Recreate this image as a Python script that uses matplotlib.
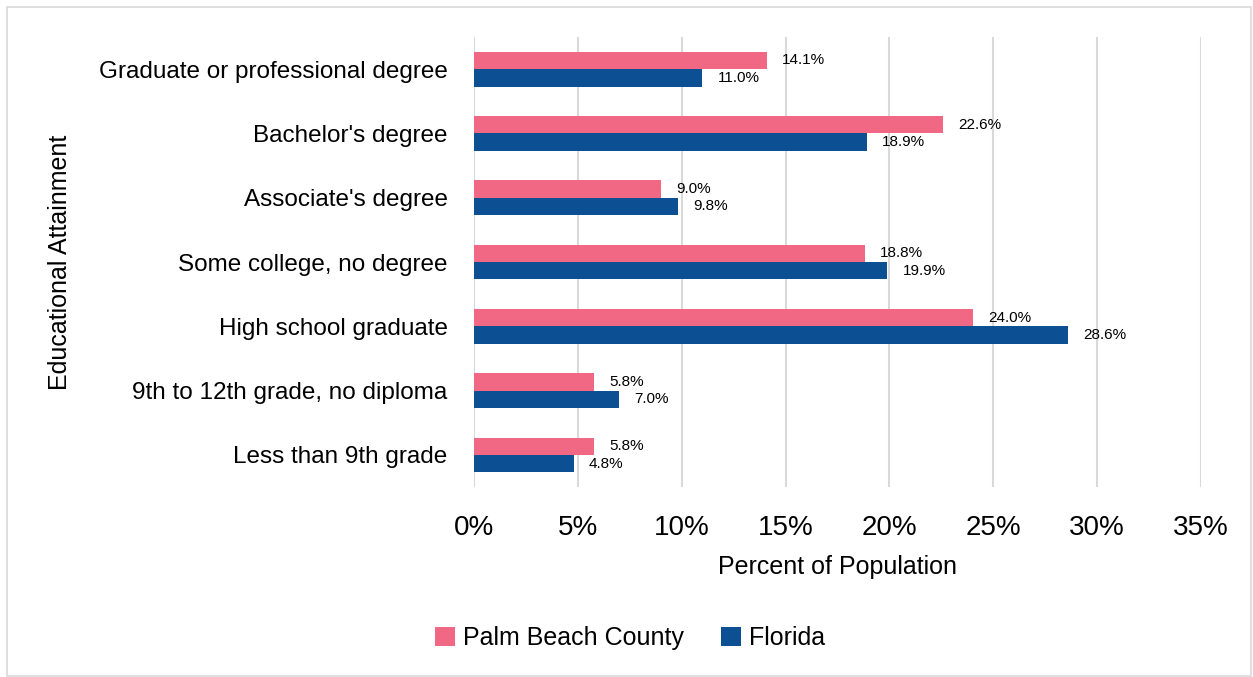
import matplotlib.pyplot as plt
from matplotlib.patches import Rectangle
import numpy as np

plt.rcParams['font.family'] = ['Liberation Sans Narrow', 'Liberation Sans', 'DejaVu Sans']

categories = ["Graduate or professional degree", "Bachelor's degree", "Associate's degree",
              "Some college, no degree", "High school graduate",
              "9th to 12th grade, no diploma", "Less than 9th grade"]
palm_beach = [14.1, 22.6, 9.0, 18.8, 24.0, 5.8, 5.8]
florida = [11.0, 18.9, 9.8, 19.9, 28.6, 7.0, 4.8]
xticks = [0, 5, 10, 15, 20, 25, 30, 35]

pink = '#F06883'
blue = '#0D4F93'

fig = plt.figure(figsize=(12.53, 6.77), dpi=100)
ax = fig.add_axes([474 / 1253, 1 - 487 / 677, (1201 - 474) / 1253, (487 - 37) / 677])

y = np.arange(len(categories))
h = 0.27
ax.barh(y - h / 2, palm_beach, height=h, color=pink, label='Palm Beach County', zorder=3)
ax.barh(y + h / 2, florida, height=h, color=blue, label='Florida', zorder=3)

for yi, v in zip(y, palm_beach):
    ax.annotate(f'{v:.1f}%', (v, yi - h / 2), xytext=(11, 0), textcoords='offset points',
                va='center', ha='left', fontsize=11)
for yi, v in zip(y, florida):
    ax.annotate(f'{v:.1f}%', (v, yi + h / 2), xytext=(11, 0), textcoords='offset points',
                va='center', ha='left', fontsize=11)

ax.set_ylim(len(categories) - 0.5, -0.5)
ax.set_xlim(0, 35)
ax.set_xticks(xticks)
ax.set_xticklabels([f'{t}%' for t in xticks], fontsize=20)
ax.set_yticks(y)
ax.set_yticklabels(categories, fontsize=17.5)
ax.tick_params(axis='y', length=0, pad=19)
ax.tick_params(axis='x', length=0, pad=20)
ax.grid(axis='x', color='#D9D9D9', linewidth=1.5, zorder=0)
for s in ax.spines.values():
    s.set_visible(False)

ax.set_xlabel('Percent of Population', fontsize=18, labelpad=10)
fig.text(60 / 1253, 1 - 262 / 677, 'Educational Attainment', rotation=90,
         fontsize=18, ha='center', va='center')

fig.legend(loc='center', bbox_to_anchor=(630 / 1253, 1 - 638 / 677), ncol=2,
           frameon=False, fontsize=18, handlelength=0.8, handleheight=0.8,
           columnspacing=1.5, handletextpad=0.3)

fig.patches.append(Rectangle((7 / 1253, 0.002), 1 - 9 / 1253, 1 - 7 / 677 - 0.002,
                             transform=fig.transFigure, fill=False,
                             edgecolor='#D9D9D9', linewidth=1.2))

fig.savefig('out.png', dpi=100)
